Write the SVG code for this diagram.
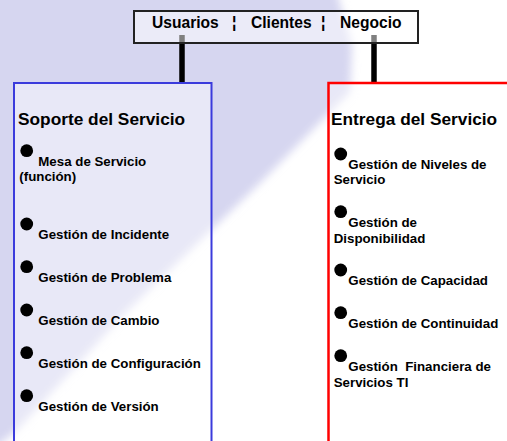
<svg xmlns="http://www.w3.org/2000/svg" width="507" height="441" viewBox="0 0 507 441">
  <defs>
    <filter id="soft" x="-10%" y="-10%" width="120%" height="120%">
      <feGaussianBlur stdDeviation="4"/>
    </filter>
    <style>
      text { font-family: "Liberation Sans", Arial, sans-serif; font-weight: bold; fill: #000; }
      .hdr { font-size: 15.6px; }
      .title { font-size: 17.3px; }
      .item { font-size: 13.3px; }
      .bullet { fill: #000; }
      .conn { stroke: #000; stroke-width: 5.5; fill: none; }
    </style>
  </defs>

  <rect x="0" y="0" width="507" height="441" fill="#ffffff"/>
  <polygon points="-10,-10 336,-10 352,45 350,92 260,183 125,313 15,432 -10,452" fill="#d6d6f0" filter="url(#soft)"/>

  <g id="connectors">
    <line class="conn" x1="182" y1="35" x2="182" y2="83"/>
    <line class="conn" x1="374" y1="35" x2="374" y2="83"/>
  </g>

  <g id="top-node">
    <rect x="134" y="11" width="284" height="32" fill="#ffffff" fill-opacity="0.5" stroke="#222222" stroke-width="2"/>
    <text class="hdr" x="152" y="28">Usuarios</text>
    <text class="hdr" x="232" y="28">¦</text>
    <text class="hdr" x="251" y="28">Clientes</text>
    <text class="hdr" x="321" y="28">¦</text>
    <text class="hdr" x="340" y="28">Negocio</text>
  </g>

  <g id="soporte">
    <rect x="14" y="83" width="197.5" height="370" fill="#ffffff" fill-opacity="0.45" stroke="#3b3bdc" stroke-width="2"/>
    <text class="title" x="18" y="125">Soporte del Servicio</text>
    <circle class="bullet" cx="26.7" cy="150.7" r="6.4"/>
    <text class="item" x="38.3" y="166">Mesa de Servicio</text>
    <text class="item" x="19.3" y="181">(función)</text>
    <circle class="bullet" cx="26.7" cy="224" r="6.4"/>
    <text class="item" x="38.3" y="239.3">Gestión de Incidente</text>
    <circle class="bullet" cx="26.7" cy="266.7" r="6.4"/>
    <text class="item" x="38.3" y="282.3">Gestión de Problema</text>
    <circle class="bullet" cx="26.7" cy="310" r="6.4"/>
    <text class="item" x="38.3" y="325.3">Gestión de Cambio</text>
    <circle class="bullet" cx="26.7" cy="352.7" r="6.4"/>
    <text class="item" x="38.3" y="368.3">Gestión de Configuración</text>
    <circle class="bullet" cx="26.7" cy="395.7" r="6.4"/>
    <text class="item" x="38.3" y="411.3">Gestión de Versión</text>
  </g>

  <g id="entrega">
    <rect x="328.5" y="83" width="190" height="370" fill="#ffffff" fill-opacity="0.45" stroke="#ff0000" stroke-width="2.5"/>
    <text class="title" x="331" y="125">Entrega del Servicio</text>
    <circle class="bullet" cx="340.7" cy="154" r="6.4"/>
    <text class="item" x="348.3" y="169.3">Gestión de Niveles de</text>
    <text class="item" x="333.7" y="184.3">Servicio</text>
    <circle class="bullet" cx="340.7" cy="211.7" r="6.4"/>
    <text class="item" x="348.3" y="227">Gestión de</text>
    <text class="item" x="333.7" y="243">Disponibilidad</text>
    <circle class="bullet" cx="340.7" cy="270" r="6.4"/>
    <text class="item" x="348.3" y="285.3">Gestión de Capacidad</text>
    <circle class="bullet" cx="340.7" cy="312.7" r="6.4"/>
    <text class="item" x="348.3" y="328.3">Gestión de Continuidad</text>
    <circle class="bullet" cx="340.7" cy="355.7" r="6.4"/>
    <text class="item" x="348.3" y="371" xml:space="preserve">Gestión  Financiera de</text>
    <text class="item" x="333.7" y="386.7">Servicios TI</text>
  </g>
</svg>
